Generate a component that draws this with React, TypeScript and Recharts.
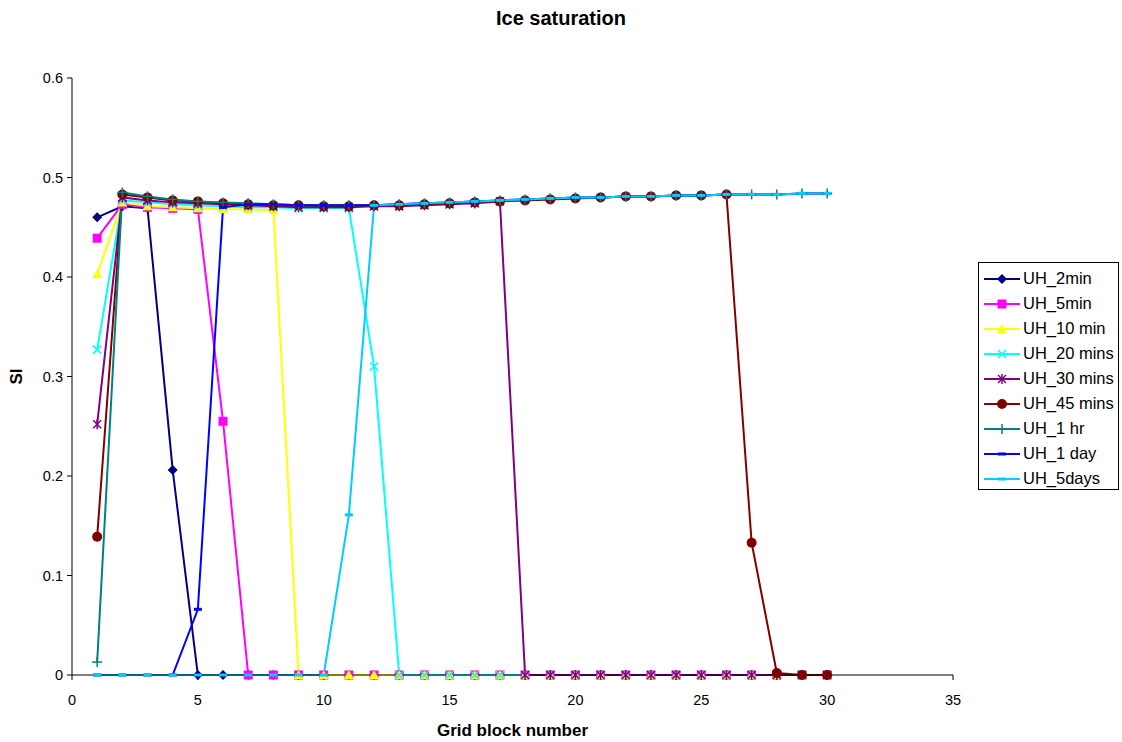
import React from "react";
import { LineChart, Line, XAxis, YAxis } from "recharts";

// grid block numbers along the x axis
const blocks = [1, 2, 3, 4, 5, 6, 7, 8, 9, 10, 11, 12, 13, 14, 15, 16, 17, 18, 19, 20, 21, 22, 23, 24, 25, 26, 27, 28, 29, 30];

const uh2min = [0.46, 0.471, 0.469, 0.206, 0, 0, 0, 0, 0, 0, 0, 0, 0, 0, 0, 0, 0, 0, 0, 0, 0, 0, 0, 0, 0, 0, 0, 0, 0, 0];
const uh5min = [0.439, 0.473, 0.47, 0.469, 0.468, 0.255, 0, 0, 0, 0, 0, 0, 0, 0, 0, 0, 0, 0, 0, 0, 0, 0, 0, 0, 0, 0, 0, 0, 0, 0];
const uh10min = [0.403, 0.475, 0.471, 0.47, 0.469, 0.468, 0.468, 0.467, 0, 0, 0, 0, 0, 0, 0, 0, 0, 0, 0, 0, 0, 0, 0, 0, 0, 0, 0, 0, 0, 0];
const uh20mins = [0.327, 0.477, 0.475, 0.473, 0.472, 0.471, 0.47, 0.47, 0.469, 0.469, 0.469, 0.31, 0, 0, 0, 0, 0, 0, 0, 0, 0, 0, 0, 0, 0, 0, 0, 0, 0, 0];
const uh30mins = [0.252, 0.48, 0.477, 0.475, 0.474, 0.473, 0.472, 0.471, 0.47, 0.47, 0.47, 0.471, 0.471, 0.472, 0.473, 0.474, 0.476, 0, 0, 0, 0, 0, 0, 0, 0, 0, 0, 0, 0, 0];
const uh45mins = [0.139, 0.483, 0.48, 0.477, 0.476, 0.474, 0.473, 0.472, 0.472, 0.471, 0.471, 0.472, 0.472, 0.473, 0.474, 0.475, 0.476, 0.477, 0.478, 0.479, 0.48, 0.481, 0.481, 0.482, 0.482, 0.483, 0.133, 0.002, 0, 0];
const uh1hr = [0.013, 0.485, 0.481, 0.478, 0.476, 0.475, 0.474, 0.473, 0.472, 0.472, 0.472, 0.472, 0.473, 0.474, 0.475, 0.476, 0.477, 0.478, 0.479, 0.48, 0.48, 0.481, 0.481, 0.482, 0.482, 0.483, 0.483, 0.483, 0.484, 0.484];
const uh1day = [0, 0, 0, 0, 0.066, 0.47, 0.473, 0.473, 0.472, 0.472, 0.472, 0.472, 0.473, 0.474, 0.475, 0.476, 0.477, 0.478, 0.479, 0.48, 0.48, 0.481, 0.481, 0.482, 0.482, 0.483, 0.483, 0.483, 0.484, 0.484];
const uh5days = [0, 0, 0, 0, 0, 0, 0, 0, 0, 0, 0.161, 0.472, 0.473, 0.474, 0.475, 0.476, 0.477, 0.478, 0.479, 0.48, 0.48, 0.481, 0.481, 0.482, 0.482, 0.483, 0.483, 0.483, 0.484, 0.484];

const xTicks = [0, 5, 10, 15, 20, 25, 30, 35];
const yTicks = [0, 0.1, 0.2, 0.3, 0.4, 0.5, 0.6];

type Kind = "diamond" | "square" | "triangle" | "x" | "star" | "circle" | "plus" | "dash";

const series: { key: string; name: string; color: string; marker: Kind; values: number[] }[] = [
  { key: "s2", name: "UH_2min", color: "#000080", marker: "diamond", values: uh2min },
  { key: "s5", name: "UH_5min", color: "#FF00FF", marker: "square", values: uh5min },
  { key: "s10", name: "UH_10 min", color: "#FFFF00", marker: "triangle", values: uh10min },
  { key: "s20", name: "UH_20 mins", color: "#00FFFF", marker: "x", values: uh20mins },
  { key: "s30", name: "UH_30 mins", color: "#800080", marker: "star", values: uh30mins },
  { key: "s45", name: "UH_45 mins", color: "#800000", marker: "circle", values: uh45mins },
  { key: "s1h", name: "UH_1 hr", color: "#008080", marker: "plus", values: uh1hr },
  { key: "s1d", name: "UH_1 day", color: "#0000FF", marker: "dash", values: uh1day },
  { key: "s5d", name: "UH_5days", color: "#00CCFF", marker: "dash", values: uh5days },
];

const data = blocks.map((b, i) => {
  const row: Record<string, number> = { block: b };
  series.forEach((s) => (row[s.key] = s.values[i]));
  return row;
});

function Marker({ kind, cx, cy, color }: { kind: Kind; cx: number; cy: number; color: string }) {
  switch (kind) {
    case "diamond":
      return <polygon points={`${cx},${cy - 5} ${cx + 5},${cy} ${cx},${cy + 5} ${cx - 5},${cy}`} fill={color} />;
    case "square":
      return <rect x={cx - 4.5} y={cy - 4.5} width={9} height={9} fill={color} />;
    case "triangle":
      return <polygon points={`${cx},${cy - 5} ${cx + 5},${cy + 4} ${cx - 5},${cy + 4}`} fill={color} />;
    case "x":
      return (
        <g stroke={color} strokeWidth={1.5}>
          <line x1={cx - 4} y1={cy - 4} x2={cx + 4} y2={cy + 4} />
          <line x1={cx - 4} y1={cy + 4} x2={cx + 4} y2={cy - 4} />
        </g>
      );
    case "star":
      return (
        <g stroke={color} strokeWidth={1.5}>
          <line x1={cx - 4} y1={cy - 4} x2={cx + 4} y2={cy + 4} />
          <line x1={cx - 4} y1={cy + 4} x2={cx + 4} y2={cy - 4} />
          <line x1={cx} y1={cy - 5} x2={cx} y2={cy + 5} />
        </g>
      );
    case "circle":
      return <circle cx={cx} cy={cy} r={5} fill={color} />;
    case "plus":
      return (
        <g stroke={color} strokeWidth={1.5}>
          <line x1={cx - 5} y1={cy} x2={cx + 5} y2={cy} />
          <line x1={cx} y1={cy - 5} x2={cx} y2={cy + 5} />
        </g>
      );
    case "dash":
      return <rect x={cx - 4} y={cy - 1.5} width={8} height={3} fill={color} />;
  }
  return null;
}

const font = "'Liberation Sans', Arial, sans-serif";

// rotated y-axis title, centred on the plot height
function YTitle({ viewBox }: any) {
  const cy = viewBox.y + viewBox.height / 2;
  return (
    <text x={16} y={cy} transform={`rotate(-90 16 ${cy})`} textAnchor="middle" dominantBaseline="central" fontSize={17} fontWeight="bold" fontFamily={font} fill="#000">
      SI
    </text>
  );
}

export default function App() {
  return (
    <div style={{ position: "absolute", left: 0, top: 0, width: 1122, height: 742, background: "#fff", fontFamily: font }}>
      <div style={{ position: "absolute", left: 0, width: 1122, top: 7, textAlign: "center", fontSize: 20, fontWeight: "bold" }}>
        Ice saturation
      </div>
      <LineChart width={1122} height={742} data={data} margin={{ top: 78, right: 169, left: 12, bottom: 37 }}>
        <XAxis
          dataKey="block"
          type="number"
          domain={[0, 35]}
          ticks={xTicks}
          tickSize={5}
          tickMargin={15}
          stroke="#000"
          height={30}
          tick={{ fill: "#000", fontSize: 14.5, fontFamily: font }}
          label={{ value: "Grid block number", position: "insideBottom", offset: -31, fill: "#000", fontSize: 17, fontWeight: "bold", fontFamily: font }}
        />
        <YAxis
          type="number"
          domain={[0, 0.6]}
          ticks={yTicks}
          width={60}
          tickSize={5}
          tickMargin={4}
          stroke="#000"
          tick={{ fill: "#000", fontSize: 14.5, fontFamily: font }}
          tickFormatter={(v: number) => (v === 0 ? "0" : v.toFixed(1))}
          label={<YTitle />}
        />
        {series.map((s) => (
          <Line
            key={s.key}
            dataKey={s.key}
            name={s.name}
            type="linear"
            stroke={s.color}
            strokeWidth={2}
            isAnimationActive={false}
            dot={(p: any) => <Marker key={`${s.key}-${p.index}`} kind={s.marker} cx={p.cx} cy={p.cy} color={s.color} />}
            activeDot={false}
          />
        ))}
      </LineChart>
      <div
        style={{
          position: "absolute",
          left: 978,
          top: 262,
          width: 141,
          height: 228,
          border: "1px solid #000",
          background: "#fff",
          paddingTop: 3,
          boxSizing: "border-box",
        }}
      >
        {series.map((s) => (
          <div key={s.key} style={{ display: "flex", alignItems: "center", height: 25, fontSize: 16.5, whiteSpace: "nowrap" }}>
            <svg width={40} height={14} style={{ marginLeft: 3, flexShrink: 0 }}>
              <line x1={2} y1={7} x2={38} y2={7} stroke={s.color} strokeWidth={2} />
              <Marker kind={s.marker} cx={20} cy={7} color={s.color} />
            </svg>
            <span style={{ marginLeft: 1 }}>{s.name}</span>
          </div>
        ))}
      </div>
    </div>
  );
}
